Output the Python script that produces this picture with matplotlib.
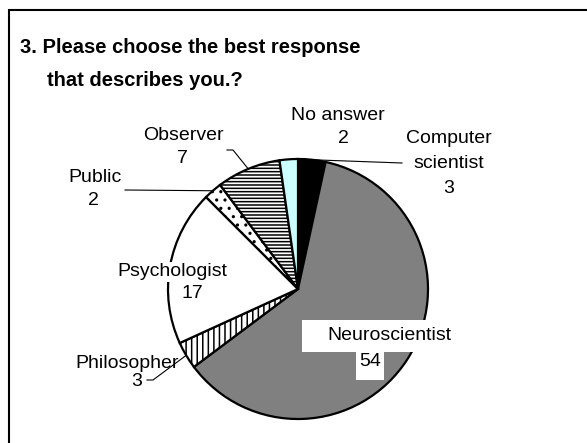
import numpy as np
import matplotlib.pyplot as plt
from matplotlib.patches import Rectangle

plt.rcParams['font.family'] = ['Liberation Sans', 'DejaVu Sans']
plt.rcParams['hatch.linewidth'] = 1.1

W, H = 587, 443

categories = ["Computer\nscientist", "Neuroscientist", "Philosopher",
              "Psychologist", "Public", "Observer", "No answer"]
counts = [3, 54, 3, 17, 2, 7, 2]
colors = ["black", "#808080", "white", "white", "white", "white", "#ccffff"]
hatches = [None, None, "|||", None, "..", "-----", None]

# pie placement in pixels (image coords, y down)
CX, CY, R = 298, 289, 130

# label layout: (name x, name y, count x, count y, line step)
label_pos = {
    "Computer\nscientist": (449, 138, 449, 188, 25),
    "Neuroscientist": (389, 336, 370, 362, 25),
    "Philosopher": (127, 364, 137, 382, 18),
    "Psychologist": (172, 272, 192, 294, 22),
    "Public": (95, 177, 93, 200, 23),
    "Observer": (183, 135, 182, 158, 23),
    "No answer": (338, 115, 343, 138, 23),
}
# leader lines: elbow points after the wedge edge point
leaders = {
    "Computer\nscientist": [(402, 163)],
    "Observer": [(233, 150), (227, 150)],
    "Public": [(125, 190)],
    "Philosopher": [(153, 380), (147, 380)],
}


def Y(y):
    return H - y


fig = plt.figure(figsize=(W / 100, H / 100), dpi=100)
ax = fig.add_axes([0, 0, 1, 1])

wedges, _ = ax.pie(
    counts,
    colors=colors,
    startangle=90,
    counterclock=False,
    center=(CX, Y(CY)),
    radius=R,
    wedgeprops=dict(edgecolor="black", linewidth=1.6),
)
for w, h in zip(wedges, hatches):
    if h:
        w.set_hatch(h)

ax.set_xlim(0, W)
ax.set_ylim(0, H)
ax.set_aspect("equal")
ax.axis("off")

# frame (left and top only visible)
ax.plot([8.5, 8.5, W + 5], [Y(H + 5), Y(9.5), Y(9.5)], color="black",
        linewidth=1.5, solid_joinstyle="miter")

# title
ax.text(20, Y(47), "3. Please choose the best response", fontsize=14.5,
        fontweight="bold", ha="left", va="center")
ax.text(47, Y(80), "that describes you.?", fontsize=14.5,
        fontweight="bold", ha="left", va="center")

# white boxes behind Neuroscientist label
ax.add_patch(Rectangle((302, Y(352)), 150, 32, facecolor="white",
                       edgecolor="none", zorder=3))
ax.add_patch(Rectangle((356, Y(380)), 28, 28, facecolor="white",
                       edgecolor="none", zorder=3))

for w, name, n in zip(wedges, categories, counts):
    nx, ny, vx, vy, step = label_pos[name]
    box = None
    if name == "Psychologist":
        box = dict(facecolor="white", edgecolor="none", pad=1)
    for i, line in enumerate(name.split("\n")):
        ax.text(nx, Y(ny + i * step), line, fontsize=14, ha="center",
                va="center", zorder=4, bbox=box)
    ax.text(vx, Y(vy), str(n), fontsize=14, ha="center", va="center",
            zorder=4, bbox=box)

    if name in leaders:
        mid = np.deg2rad((w.theta1 + w.theta2) / 2)
        px = CX + R * np.cos(mid)
        py = Y(CY) + R * np.sin(mid)
        xs = [px] + [p[0] for p in leaders[name]]
        ys = [py] + [Y(p[1]) for p in leaders[name]]
        ax.plot(xs, ys, color="black", linewidth=0.8, zorder=2)

fig.savefig("out.png", dpi=100)
